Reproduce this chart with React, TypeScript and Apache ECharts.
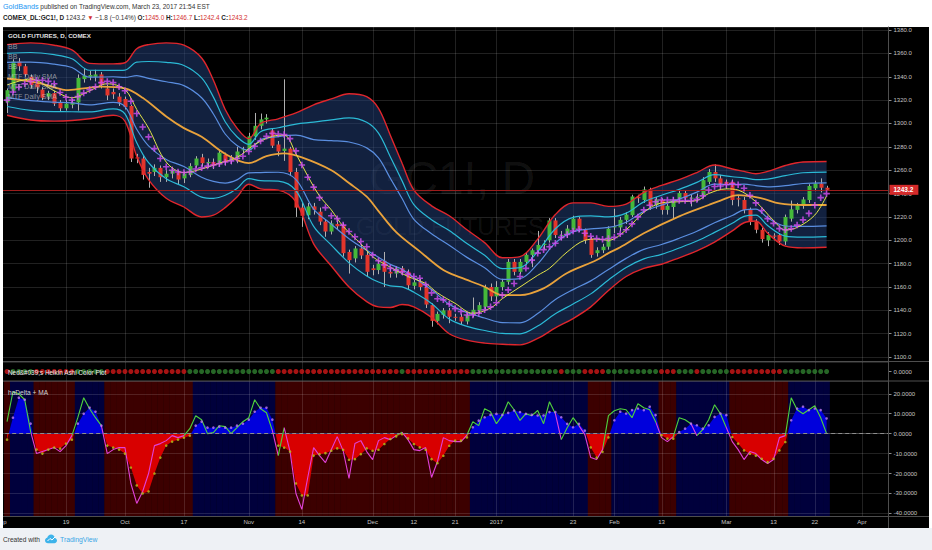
import { useEffect, useRef } from "react";
import * as echarts from "echarts";

const FONT = "'Liberation Sans', Arial, sans-serif";

// daily slots: Sep 1 2016 (first, cut off) .. Mar 24 2017, then empty days up to Apr 7
const firstDay = "2016-09-01";
const holidays = ["2016-09-05", "2016-11-24", "2016-12-26", "2017-01-02", "2017-01-16", "2017-02-20"];
const slotCount = 151;

const tickLabels = [
  ["2016-09-01", "Sep"], ["2016-09-19", "19"], ["2016-10-03", "Oct"], ["2016-10-17", "17"],
  ["2016-11-01", "Nov"], ["2016-11-14", "14"], ["2016-12-01", "Dec"], ["2016-12-12", "12"],
  ["2016-12-21", "21"], ["2017-01-03", "2017"], ["2017-01-23", "23"], ["2017-02-01", "Feb"],
  ["2017-02-13", "13"], ["2017-03-01", "Mar"], ["2017-03-13", "13"], ["2017-03-22", "22"],
  ["2017-04-03", "Apr"],
];

// [open, close, low, high] from Sep 2 2016 to Mar 24 2017
const ohlc = [
  [1318, 1328.5, 1309, 1330], [1328, 1353, 1326, 1355], [1353, 1349, 1345, 1356], [1349, 1342, 1340, 1351],
  [1340, 1333, 1330, 1342], [1334, 1331, 1326, 1336], [1329, 1322, 1320, 1331], [1323, 1326, 1320, 1328],
  [1326, 1317, 1315, 1328], [1318, 1313, 1310, 1320], [1313, 1317, 1311, 1320], [1316, 1318, 1313, 1321],
  [1318, 1339, 1311, 1342], [1338, 1341, 1335, 1347], [1340, 1341.5, 1337, 1345], [1340, 1342, 1336, 1346],
  [1342, 1333, 1330, 1344], [1330, 1324, 1320, 1333], [1327, 1325, 1321, 1330], [1323, 1318, 1315, 1326],
  [1321, 1314, 1312, 1323], [1315, 1270, 1267, 1316], [1271, 1270, 1266, 1274], [1270, 1256, 1252, 1272],
  [1258.5, 1257, 1245, 1262], [1258.5, 1262, 1255, 1265], [1262, 1254, 1250, 1264], [1254, 1257, 1250, 1260],
  [1257, 1260, 1253, 1263], [1258, 1252, 1248, 1260], [1253, 1257, 1249, 1259], [1256, 1263.5, 1254, 1266],
  [1264, 1270, 1262, 1272], [1271, 1266, 1263, 1274], [1266, 1267, 1262, 1270], [1267, 1264, 1261, 1270],
  [1265, 1275, 1263, 1277], [1273, 1267, 1264, 1275], [1268, 1271, 1265, 1273], [1270, 1276, 1266, 1280],
  [1277, 1278, 1274, 1280], [1277, 1289, 1276, 1292], [1289, 1298, 1286, 1309], [1298, 1303.5, 1295, 1308.5],
  [1303.5, 1305, 1300, 1308], [1294, 1281, 1279, 1296], [1282, 1276, 1272, 1285], [1276.5, 1278.5, 1268, 1337.8],
  [1278.5, 1258.5, 1255, 1280], [1258.5, 1228, 1220, 1262], [1228, 1221, 1211.5, 1232], [1221.5, 1229, 1218, 1232],
  [1229, 1226, 1222, 1232], [1224.5, 1216, 1213, 1228], [1216, 1207.5, 1203, 1218], [1207.5, 1214.5, 1205, 1217],
  [1214, 1212, 1209, 1217], [1213, 1189, 1186, 1215], [1190, 1183, 1171.5, 1192], [1184.5, 1193, 1181, 1195],
  [1193, 1187, 1184, 1196], [1187.5, 1173, 1169, 1190], [1176, 1174.5, 1170, 1179], [1174.5, 1180, 1171, 1183],
  [1182.5, 1173, 1160, 1190], [1173, 1171.5, 1168, 1176], [1171.5, 1176, 1168, 1178], [1176, 1173, 1170, 1178],
  [1173, 1161.5, 1158, 1175], [1161, 1164, 1158, 1166], [1164.5, 1160, 1157, 1167], [1160, 1145, 1142, 1162],
  [1144.5, 1131, 1126, 1146], [1131, 1137, 1128, 1139], [1136, 1140, 1133, 1142], [1140, 1134.5, 1129, 1142],
  [1134.5, 1134, 1131, 1137], [1134.5, 1130.5, 1128, 1137], [1130.5, 1136, 1128, 1138], [1136, 1140.5, 1134, 1151],
  [1139.5, 1144.5, 1137, 1147], [1143, 1160, 1141, 1162], [1160, 1152, 1148, 1163], [1152, 1160, 1148, 1165],
  [1160, 1164.5, 1157, 1167], [1164.5, 1181.5, 1162, 1184], [1181.5, 1173, 1170, 1184], [1173, 1181.5, 1171, 1184],
  [1181.5, 1187.5, 1179, 1189], [1187.5, 1191.5, 1177, 1193], [1191.5, 1196, 1189, 1208], [1196, 1197, 1192, 1200],
  [1200, 1217, 1198, 1219], [1217, 1204.5, 1202, 1219], [1204, 1204.5, 1200, 1208], [1204.5, 1210, 1202, 1213],
  [1209, 1218.5, 1207, 1221], [1218.5, 1210, 1207, 1220], [1209, 1200, 1197, 1210], [1201.5, 1187.5, 1185, 1203],
  [1189, 1191.5, 1186, 1194], [1191.5, 1194.5, 1189, 1197], [1194.5, 1210, 1192, 1212], [1211, 1212, 1206, 1227],
  [1211, 1217.5, 1208, 1220], [1217.5, 1222, 1214, 1224], [1221.5, 1237.5, 1220, 1239], [1237, 1236, 1232, 1239],
  [1234.5, 1243.5, 1232, 1246], [1243, 1229.5, 1226, 1245], [1230, 1235, 1227, 1237], [1234.5, 1226, 1222, 1236],
  [1226, 1229.5, 1222, 1231], [1228.5, 1235, 1219, 1237], [1235, 1240.5, 1233, 1243], [1240.5, 1236, 1233, 1243],
  [1236, 1236.5, 1229, 1239], [1236.5, 1237, 1233, 1240], [1238.5, 1251.5, 1236, 1254], [1250, 1258.5, 1248, 1261],
  [1258.5, 1253, 1250, 1265], [1253, 1247.5, 1244, 1256], [1250, 1247.5, 1244, 1252], [1250, 1234.5, 1230, 1252],
  [1236, 1235, 1229, 1238], [1234.5, 1226, 1223, 1237], [1226, 1216, 1213, 1228], [1216, 1209, 1206, 1218],
  [1209, 1201, 1198, 1211], [1200, 1204.5, 1195, 1207], [1204, 1203.5, 1200, 1206], [1204.5, 1199, 1196, 1206],
  [1199, 1220, 1196, 1222], [1218.5, 1226.5, 1216, 1234], [1226, 1230, 1223, 1232], [1229.5, 1235, 1227, 1237],
  [1234.5, 1246.5, 1232, 1248], [1244.5, 1248.5, 1242, 1251], [1248.5, 1245, 1241, 1253], [1245.0, 1243.2, 1242.4, 1246.7],
];

// MTF Daily SMA (magenta crosses), one per bar
const smaFast = [
  1320, 1327, 1331, 1334, 1336, 1337, 1337, 1336, 1334, 1326.5,
  1322.5, 1320, 1323, 1326, 1329, 1331.5, 1335, 1336, 1335, 1331.5,
  1328, 1319, 1308.5, 1297, 1288.5, 1278.5, 1270, 1263, 1260, 1258.5,
  1258, 1258.5, 1261, 1262, 1263.5, 1264.5, 1265.5, 1267, 1268, 1270,
  1272, 1276, 1280.5, 1285, 1289, 1291.5, 1291, 1290.5, 1287, 1276.5,
  1264.5, 1254, 1245.5, 1236.5, 1228, 1221, 1218.5, 1213, 1207.5, 1203,
  1199, 1194.5, 1187.5, 1182.5, 1179, 1176, 1174.5, 1173, 1171, 1169,
  1167.5, 1162, 1155, 1150, 1149, 1145.5, 1141.5, 1139, 1136, 1136,
  1137.5, 1140.5, 1143, 1146.5, 1153, 1157.5, 1163, 1169, 1176, 1183,
  1189, 1192, 1194.5, 1197.5, 1202.5, 1205, 1208, 1209.5, 1206, 1203.5,
  1201.5, 1200.8, 1201.5, 1202.5, 1205.5, 1209, 1214, 1220, 1226, 1230,
  1233, 1234.5, 1234.5, 1234.5, 1234, 1234, 1234, 1235, 1238, 1243,
  1246, 1246.5, 1247.5, 1248.5, 1247.5, 1244.5, 1238.5, 1232, 1225.5, 1218.5,
  1214.5, 1210, 1209, 1210, 1213, 1217.5, 1223, 1230, 1236.5, 1240,
];

// MTF Daily SMA (yellow), read at these bars
const smaMidIdx = [0, 4, 8, 11, 14, 17, 20, 22, 24, 27, 30, 33, 36, 39, 42, 45, 47, 49, 51, 53, 55, 57, 60, 62, 65, 68, 71, 73, 76, 79, 82, 84, 87, 90, 92, 95, 98, 100, 102, 105, 108, 111, 114, 117, 119, 122, 124, 127, 130, 132, 134, 137, 139];
const smaMid = [1333, 1338, 1328, 1322, 1328, 1334, 1329, 1312, 1296, 1267, 1258, 1261, 1266, 1271, 1282, 1289, 1290, 1274, 1255, 1238, 1226, 1212, 1197, 1186, 1177, 1169, 1163, 1155, 1146, 1137.5, 1142, 1150, 1160, 1170, 1176, 1190, 1200, 1201, 1200, 1209, 1224, 1232, 1233, 1234, 1240, 1244, 1243, 1233, 1217, 1208.8, 1211, 1221.6, 1238];

// MTF Daily SMA (orange), read at these bars
const smaSlowIdx = [0, 5, 8, 10, 13, 16, 20, 23, 27, 30, 33, 37, 41, 44, 47, 50, 55, 58, 61, 63, 66, 70, 74, 77, 81, 84, 87, 91, 95, 100, 102, 104, 108, 114, 119, 121, 124, 128, 131, 135, 139];
const smaSlow = [1338.5, 1335, 1331, 1328.6, 1330, 1331.5, 1330, 1322, 1306, 1296, 1288.6, 1274, 1266, 1272, 1274.4, 1271, 1260, 1249, 1237.3, 1225, 1207, 1190.5, 1174.5, 1168, 1160.2, 1153.1, 1153, 1158.8, 1172, 1183.1, 1189, 1194, 1206, 1220.5, 1230.2, 1234, 1238.7, 1235.9, 1231.6, 1230.2, 1230.2];

// outer Bollinger band (red), read at these bars
const bbIdx = [0, 4, 8, 11, 14, 18, 20, 22, 24, 27, 30, 33, 35, 37, 39, 41, 43, 46, 49, 52, 55, 58, 61, 63, 65, 67, 69, 72, 75, 78, 81, 84, 87, 90, 93, 96, 99, 102, 105, 108, 111, 114, 117, 120, 123, 125, 127, 129, 132, 135, 139];
const bbUpper = [1367.5, 1369, 1367, 1363, 1351.5, 1351, 1352, 1364, 1367.5, 1369, 1367, 1356, 1337, 1312, 1296, 1287, 1300, 1304, 1309, 1316, 1321, 1325.5, 1323, 1313, 1290, 1266, 1243, 1229.5, 1221, 1209, 1198, 1185, 1186, 1201, 1222, 1232, 1232, 1229, 1231, 1241, 1247, 1252, 1258, 1264.5, 1261, 1259, 1257, 1259, 1264, 1267, 1267.5];
const bbLower = [1307, 1303, 1302, 1302.5, 1304, 1307, 1302, 1272, 1252, 1236, 1228.5, 1220, 1221.5, 1228, 1237, 1248, 1244, 1243, 1233, 1197, 1178, 1160, 1147.5, 1143, 1142.5, 1145, 1143, 1134, 1120, 1114.5, 1112, 1111, 1110.5, 1116, 1125, 1133, 1143, 1157, 1169, 1176, 1179.5, 1185, 1191, 1198.5, 1208, 1215, 1216.5, 1206, 1195, 1193.5, 1194];
const bbMults = [0.5, 0.75]; // inner (blue) and middle (cyan) bands as share of the outer one

// haDelta line and its MA (filled), one per bar
const haDelta = [
  6, 21, 20, 17, 1, -10, -9, -8, -7, -9,
  -6, -1, 8, 18, 12.5, 8, 4, -10, -8, -7,
  -7, -25, -35, -29, -20, -6, -5, -3.5, -1, -2,
  -1, 2.5, 9, 7, 0, 0.5, 4, 3.5, 0, 3,
  6, 8, 17, 12.5, 10.5, 1.5, -11, 3, -9, -30,
  -38, -22, -7, -11, -14.5, -8, -1.5, -8.5, -22.5, -5,
  -3.5, -9, -13, -3.5, -2, -3, -1, 0.7, -3, -8,
  -8.5, -7, -22, -14, -2, -3.5, -4, -4, -0.7, 6,
  4, 12.5, 11, 5, 9, 16, 12, 6.6, 10, 9,
  11.6, 5, 16, 10, -3, 3, 8, 4, -0.5, -12,
  -13, -8, 9, 11.5, 12.5, 12, 8, 15, 13, 12,
  6, -2, -4, -1.5, 8, 7, 5, -1, 2, 7,
  14.5, 10, 3, -4, -8, -13, -9, -10, -13, -15,
  -13, -2, -1, 18, 12, 10, 12, 14, 8, 0,
];
const haMA = [
  -3, 8, 18, 17, 5, -8, -10, -8, -7, -7.5,
  -5, -3, 5, 10, 13, 11, 4, -6, -7, -8,
  -10, -17, -26, -30, -29, -20, -12, -6, -4, -3,
  -2, -1, 4, 6, 3, 3, 3.5, 3, 3, 4,
  5, 7, 11, 13, 13, 7, -6, -7, -9, -25,
  -31, -31, -11, -10.3, -9.8, -8.6, -7.4, -8.1, -13.1, -12.8,
  -10.3, -7.4, -8.6, -8.1, -5.2, -2.7, -1.4, -0.3, -2.4, -5.2,
  -6.9, -8.1, -12.8, -14.8, -11.1, -6.1, -3.5, -3.5, -1.9, 3.2,
  6.5, 8.2, 9.4, 9.9, 9.4, 10.4, 11.6, 10.8, 9.9, 9.4,
  9.1, 9.1, 10.8, 10.8, 8.2, 4.9, 3.2, 4.9, 1.5, -6.9,
  -12, -9.1, -1.9, 6.7, 11, 10.1, 11.8, 12.6, 11.8, 13.5,
  9.3, -0.8, -2.5, -2.5, 0.8, 2.5, 5, 4.2, 2.5, 4.2,
  8.4, 10.1, 9.3, -1.7, -5, -8.4, -10.1, -11, -12.6, -14.3,
  -12.6, -8.4, -4.2, 6.7, 12.6, 13.5, 11.8, 12.6, 11.8, 7.6,
];

// Heikin Ashi colour plot: runs of [bars, colour]
const haColorRuns: [number, string][] = [
  [1, "R"], [4, "G"], [7, "R"], [5, "G"], [14, "R"], [15, "G"], [21, "R"], [1, "G"], [11, "R"], [15, "G"],
  [1, "R"], [3, "G"], [4, "R"], [9, "G"], [3, "R"], [3, "G"], [1, "R"], [5, "G"], [9, "R"], [8, "G"],
];

const C = {
  up: "#45b83a", down: "#e3352b", wick: "#b0b0b0",
  bbOuter: "#e0262c", bbMid: "#2bbad6", bbInner: "#5a8ee0",
  slow: "#e9a23b", mid: "#e6e64a", fast: "#d34ff4",
  grid: "rgba(255,255,255,0.13)", sep: "#4e4e4e", axisText: "#c4c4c4",
  bgBull: "#00003c", bgBear: "#3c0000", fillBull: "#0000dc", fillBear: "#d80000",
  lineUp: "#4fd23c", lineDown: "#e040d8", dotBull: "#c07cf4", dotBear: "#b6c41a",
  haGreen: "#2f7f2f", haRed: "#d01818",
};

function buildSlots() {
  const out: string[] = [];
  const d = new Date(firstDay + "T00:00:00Z");
  while (out.length < slotCount) {
    const s = d.toISOString().slice(0, 10);
    const wd = d.getUTCDay();
    if (wd !== 0 && wd !== 6 && !holidays.includes(s)) out.push(s);
    d.setUTCDate(d.getUTCDate() + 1);
  }
  return out;
}

const slots = buildSlots();
const slotOf = (bar: number) => bar + 1; // slot 0 is Sep 1, first bar is Sep 2
const labelAt: Record<number, string> = {};
tickLabels.forEach(([d, t]) => {
  const k = slots.indexOf(d);
  if (k >= 0) labelAt[k] = t;
});
const tickSlots = Object.keys(labelAt).map(Number);

const haColors: string[] = [];
haColorRuns.forEach(([n, c]) => {
  for (let k = 0; k < n; k++) haColors.push(c);
});

echarts.graphic.registerShape(
  "tvCloud",
  echarts.graphic.extendPath(
    "M5 14C2.2 14 0 12 0 9.5 0 7.3 1.6 5.5 3.7 5.1 4.4 2.2 7 0 10 0c3.3 0 6 2.4 6.4 5.5C18.5 5.9 20 7.6 20 9.8 20 12.1 18.1 14 15.8 14Z",
    {}
  )
);

function buildOption() {
  const series: any[] = [];
  const add = (s: any) => {
    series.push(s);
    return series.length - 1;
  };

  const vgrid = (g: number) => ({
    type: "custom",
    xAxisIndex: g,
    yAxisIndex: g,
    silent: true,
    z: 1,
    data: tickSlots.filter((k) => k > 0).map((k) => [k, 0]),
    encode: { x: 0, y: 1 },
    renderItem: (params: any, api: any) => {
      const cs = params.coordSys;
      const x = Math.round(api.coord([api.value(0), 0])[0]) + 0.5;
      return {
        type: "line",
        shape: { x1: x, y1: cs.y, x2: x, y2: cs.y + cs.height },
        style: { stroke: C.grid, lineWidth: 1 },
      };
    },
  });

  // ---- main pane ----
  add(vgrid(0));
  const smooth = 0.35;
  const bbPts = (vals: number[]) => bbIdx.map((k, j) => [slotOf(k), vals[j]]);
  add({
    type: "line", xAxisIndex: 0, yAxisIndex: 0, stack: "bb", silent: true, z: 1,
    data: bbPts(bbLower), smooth, symbol: "none", lineStyle: { width: 0, opacity: 0 },
  });
  add({
    type: "line", xAxisIndex: 0, yAxisIndex: 0, stack: "bb", silent: true, z: 1,
    data: bbPts(bbUpper.map((u, j) => u - bbLower[j])), smooth, symbol: "none",
    lineStyle: { width: 0, opacity: 0 }, areaStyle: { color: "rgba(34,64,120,0.52)", opacity: 1 },
  });
  const mid = bbUpper.map((u, j) => (u + bbLower[j]) / 2);
  const half = bbUpper.map((u, j) => (u - bbLower[j]) / 2);
  const band = (k: number, sign: number) => mid.map((m, j) => m + sign * k * half[j]);
  const bbLine = (vals: number[], color: string, width: number) =>
    add({
      type: "line", xAxisIndex: 0, yAxisIndex: 0, silent: true, z: 4,
      data: bbPts(vals), smooth, symbol: "none", lineStyle: { color, width },
    });
  bbLine(bbUpper, C.bbOuter, 1.4);
  bbLine(bbLower, C.bbOuter, 1.4);
  bbLine(band(bbMults[1], 1), C.bbMid, 1.2);
  bbLine(band(bbMults[1], -1), C.bbMid, 1.2);
  bbLine(band(bbMults[0], 1), C.bbInner, 1.2);
  bbLine(band(bbMults[0], -1), C.bbInner, 1.2);

  add({
    type: "custom", xAxisIndex: 0, yAxisIndex: 0, z: 3, silent: true,
    data: ohlc.map((b, i) => [slotOf(i), b[0], b[1], b[2], b[3]]),
    encode: { x: 0, y: [1, 2, 3, 4] },
    renderItem: (params: any, api: any) => {
      const s = api.value(0);
      const o = api.value(1), c = api.value(2), l = api.value(3), h = api.value(4);
      const x = Math.round(api.coord([s, o])[0]);
      const yO = api.coord([s, o])[1], yC = api.coord([s, c])[1];
      const yL = api.coord([s, l])[1], yH = api.coord([s, h])[1];
      const top = Math.min(yO, yC), bot = Math.max(yO, yC);
      return {
        type: "group",
        children: [
          { type: "line", shape: { x1: x + 0.5, y1: yH, x2: x + 0.5, y2: yL }, style: { stroke: C.wick, lineWidth: 1 } },
          {
            type: "rect",
            shape: { x: x - 1.5, y: top, width: 4, height: Math.max(bot - top, 1) },
            style: { fill: c >= o ? C.up : C.down },
          },
        ],
      };
    },
  });

  const last = ohlc[ohlc.length - 1];
  add({
    type: "line", xAxisIndex: 0, yAxisIndex: 0, silent: true, z: 5,
    data: smaSlowIdx.map((k, j) => [slotOf(k), smaSlow[j]]), smooth, symbol: "none",
    lineStyle: { color: C.slow, width: 1.8 },
    markLine: {
      silent: true, symbol: ["none", "none"], animation: false,
      lineStyle: { color: "#9c1c1c", width: 1, type: "solid" },
      label: {
        show: true, position: "end", distance: 1, formatter: last[1].toFixed(1),
        color: "#fff", backgroundColor: "#d42a2a", padding: [2, 5, 1, 4],
        fontSize: 6.5, fontWeight: "bold", fontFamily: FONT,
      },
      data: [{ yAxis: last[1] }],
    },
  });
  add({
    type: "line", xAxisIndex: 0, yAxisIndex: 0, silent: true, z: 5,
    data: smaMidIdx.map((k, j) => [slotOf(k), smaMid[j]]), smooth, symbol: "none",
    lineStyle: { color: C.mid, width: 1 },
  });
  add({
    type: "scatter", xAxisIndex: 0, yAxisIndex: 0, silent: true, z: 6,
    data: smaFast.map((v, i) => [slotOf(i), v]),
    symbol: "path://M3,0H5V3H8V5H5V8H3V5H0V3H3Z", symbolSize: 6.5,
    itemStyle: { color: C.fast },
  });

  // ---- Heikin Ashi colour plot ----
  add(vgrid(1));
  add({
    type: "scatter", xAxisIndex: 1, yAxisIndex: 1, silent: true, z: 3,
    data: haColors.map((c, i) => ({ value: [slotOf(i), 0], itemStyle: { color: c === "G" ? C.haGreen : C.haRed } })),
    symbolSize: 5,
  });

  // ---- haDelta + MA ----
  add({
    type: "custom", xAxisIndex: 2, yAxisIndex: 2, silent: true, z: -1,
    data: haMA.map((v, i) => [slotOf(i), v]),
    encode: { x: 0, y: 1 },
    renderItem: (params: any, api: any) => {
      const cs = params.coordSys;
      const xc = api.coord([api.value(0), 0])[0];
      const w = api.size([1, 0])[0];
      return {
        type: "rect",
        shape: { x: xc - w / 2, y: cs.y, width: w + 0.3, height: cs.height },
        style: { fill: api.value(1) >= 0 ? C.bgBull : C.bgBear },
      };
    },
  });
  add(vgrid(2));
  const fillIdx = add({
    type: "line", xAxisIndex: 2, yAxisIndex: 2, silent: true, z: 2,
    data: haMA.map((v, i) => [slotOf(i), v]), symbol: "none",
    lineStyle: { width: 0, opacity: 0 }, areaStyle: { opacity: 1 },
    markLine: {
      silent: true, symbol: ["none", "none"], animation: false, label: { show: false },
      lineStyle: { color: "#8e8e8e", width: 1, type: [4, 3] },
      data: [{ yAxis: 0 }],
    },
  });
  const lineIdx = add({
    type: "line", xAxisIndex: 2, yAxisIndex: 2, silent: true, z: 3,
    data: haDelta.map((v, i) => [slotOf(i), v]), symbol: "none",
    lineStyle: { width: 1.1 },
  });
  add({
    type: "scatter", xAxisIndex: 2, yAxisIndex: 2, silent: true, z: 4,
    data: haMA.map((v, i) => ({ value: [slotOf(i), v], itemStyle: { color: v >= 0 ? C.dotBull : C.dotBear } })),
    symbolSize: 2.6,
  });

  // segment colour of the haDelta line follows the sign of the bar it ends on
  const linePieces: any[] = [];
  let start = 0;
  for (let i = 1; i <= haDelta.length; i++) {
    const prev = haDelta[i - 1] >= 0;
    if (i === haDelta.length || (haDelta[i] >= 0) !== prev) {
      linePieces.push({ gt: slotOf(start) - 1, lte: slotOf(i - 1), color: prev ? C.lineUp : C.lineDown });
      start = i;
    }
  }

  const xAxis = [0, 1, 2].map((g) => ({
    type: "category",
    gridIndex: g,
    data: slots,
    boundaryGap: true,
    axisLine: { show: g === 2, lineStyle: { color: C.sep } },
    axisTick: { show: false },
    splitLine: { show: false },
    axisLabel: {
      show: g === 2,
      interval: (i: number) => labelAt[i] !== undefined,
      formatter: (_v: string, i: number) => labelAt[i] ?? "",
      color: C.axisText,
      fontSize: 6,
      fontFamily: FONT,
      margin: 3,
    },
  }));

  const yBase = (g: number) => ({
    type: "value",
    gridIndex: g,
    position: "right",
    scale: true,
    axisLine: { show: true, lineStyle: { color: C.sep } },
    axisTick: { show: true, length: 3, lineStyle: { color: "#8a8a8a" } },
    splitLine: { show: g !== 1, lineStyle: { color: C.grid } },
    axisLabel: {
      color: C.axisText, fontSize: 6, fontFamily: FONT, margin: 5,
      showMinLabel: false, showMaxLabel: false,
    },
  });
  const yAxis = [
    { ...yBase(0), min: 1095.8, max: 1382.6, splitNumber: 14,
      axisLabel: { ...yBase(0).axisLabel, formatter: (v: number) => v.toFixed(1) } },
    { ...yBase(1), min: -1, max: 1, interval: 1,
      axisLabel: { ...yBase(1).axisLabel, formatter: (v: number) => v.toFixed(4) } },
    { ...yBase(2), min: -41.3, max: 26.4, splitNumber: 6,
      axisLabel: { ...yBase(2).axisLabel, formatter: (v: number) => v.toFixed(4) } },
  ];

  const prevClose = ohlc[ohlc.length - 2][1];
  const chg = last[1] - prevClose;
  const sign = chg < 0 ? "\u2212" : "+";
  const chgText = `${sign}${Math.abs(chg).toFixed(1)} (${sign}${Math.abs((chg / prevClose) * 100).toFixed(2)}%)`;

  const legendText = (text: string, y: number, fill: string, size = 6.5, bold = false) => ({
    type: "text", x: 8, y, z: 20, silent: true,
    style: { text, fill, fontSize: size, fontFamily: FONT, fontWeight: bold ? "bold" : "normal", verticalAlign: "middle" },
  });
  const hline = (y: number) => ({
    type: "line", z: 10, silent: true,
    shape: { x1: 3, y1: y, x2: 929, y2: y }, style: { stroke: C.sep, lineWidth: 1 },
  });
  const soft = "rgba(215,215,215,0.62)";

  const graphic = [
    { type: "rect", z: -100, silent: true, shape: { x: 3, y: 27, width: 926, height: 501 }, style: { fill: "#000" } },
    { type: "rect", z: -100, silent: true, shape: { x: 0, y: 528, width: 932, height: 22 }, style: { fill: "#eef1f5" } },
    {
      type: "text", z: -50, silent: true, x: 452, y: 178,
      style: { text: "GC1!, D", fill: "rgba(255,255,255,0.08)", fontSize: 46, fontFamily: FONT, align: "center", verticalAlign: "middle" },
    },
    {
      type: "text", z: -50, silent: true, x: 450, y: 226,
      style: { text: "GOLD FUTURES", fill: "rgba(255,255,255,0.08)", fontSize: 24, fontFamily: FONT, align: "center", verticalAlign: "middle" },
    },
    hline(361.5), hline(381), hline(516.5),
    { type: "line", z: 10, silent: true, shape: { x1: 888.5, y1: 27, x2: 888.5, y2: 528 }, style: { stroke: C.sep, lineWidth: 1 } },
    { type: "rect", z: 100, silent: true, shape: { x: 0, y: 27, width: 3, height: 501 }, style: { fill: "#fff" } },
    legendText("GOLD FUTURES, D, COMEX", 35, "#e2e2e2", 6.2, true),
    legendText("BB", 46, soft, 7),
    legendText("BB", 56, soft, 7),
    legendText("BB", 66, soft, 7),
    legendText("MTF Daily SMA", 76, soft, 7),
    legendText("MTF Daily SMA", 86, soft, 7),
    legendText("MTF Daily SMA", 96, soft, 7),
    legendText("Ned&#039;s Heikin Ashi Color Plot", 372, "#ececec", 6.4),
    legendText("haDelta + MA", 392, "#d4d4d4", 6.6),
    {
      type: "text", x: 3, y: 6, z: 20, silent: true,
      style: {
        text: "{a|GoldBands}{b| published on TradingView.com, March 23, 2017 21:54 EST}",
        fontSize: 7, fontFamily: FONT, verticalAlign: "middle",
        rich: {
          a: { fill: "#2196f3", color: "#2196f3", fontSize: 7.2, fontFamily: FONT },
          b: { fill: "#333", color: "#333", fontSize: 6.5, fontFamily: FONT },
        },
      },
    },
    {
      type: "text", x: 3, y: 17, z: 20, silent: true,
      style: {
        text:
          `{k|COMEX_DL:GC1!, D}{n| ${last[1].toFixed(1)} }{r|\u25BC}{n| ${chgText} }` +
          `{k|O:}{r|${last[0].toFixed(1)}}{k| H:}{r|${last[3].toFixed(1)}}{k| L:}{r|${last[2].toFixed(1)}}{k| C:}{r|${last[1].toFixed(1)}}`,
        fontSize: 6.4, fontFamily: FONT, verticalAlign: "middle",
        rich: {
          k: { fill: "#222", color: "#222", fontWeight: "bold", fontSize: 6.4, fontFamily: FONT },
          n: { fill: "#333", color: "#333", fontSize: 6.4, fontFamily: FONT },
          r: { fill: "#d32f2f", color: "#d32f2f", fontSize: 6.4, fontFamily: FONT },
        },
      },
    },
    {
      type: "text", x: 3, y: 539, z: 20, silent: true,
      style: { text: "Created with", fill: "#333", fontSize: 6.6, fontFamily: FONT, verticalAlign: "middle" },
    },
    { type: "tvCloud", x: 45, y: 534.5, scaleX: 0.6, scaleY: 0.62, z: 20, silent: true, style: { fill: "#3db3ea" } },
    {
      type: "polyline", z: 21, silent: true,
      shape: { points: [[47.5, 541], [50, 538.5], [52, 540], [55, 537]] },
      style: { stroke: "#fff", lineWidth: 1, fill: null },
    },
    {
      type: "text", x: 60, y: 539, z: 20, silent: true,
      style: { text: "TradingView", fill: "#3aa6e6", fontSize: 6.8, fontFamily: FONT, verticalAlign: "middle" },
    },
  ];

  const gridBox = (top: number, height: number) => ({
    left: -1.8, right: 43.5, top, height, containLabel: false, outerBoundsMode: "none",
  });

  return {
    animation: false,
    backgroundColor: "#ffffff",
    textStyle: { fontFamily: FONT },
    grid: [gridBox(27, 335), gridBox(362, 19), gridBox(381, 135)],
    xAxis,
    yAxis,
    visualMap: [
      {
        type: "piecewise", show: false, seriesIndex: fillIdx, dimension: 1,
        pieces: [{ gte: -100, lt: 0, color: C.fillBear }, { gte: 0, lte: 100, color: C.fillBull }],
        outOfRange: { color: C.fillBull },
      },
      {
        type: "piecewise", show: false, seriesIndex: lineIdx, dimension: 0,
        pieces: linePieces, outOfRange: { color: C.lineUp },
      },
    ],
    graphic,
    series,
  };
}

export default function App() {
  const chartRef = useRef<HTMLDivElement>(null);

  useEffect(() => {
    if (!chartRef.current) return;
    const chart = echarts.init(chartRef.current, null, { renderer: "svg" });
    chart.setOption(buildOption());
    return () => {
      chart.dispose();
    };
  }, []);

  return (
    <div
      ref={chartRef}
      style={{ position: "fixed", left: 0, top: 0, width: 932, height: 550, background: "#fff" }}
    />
  );
}
